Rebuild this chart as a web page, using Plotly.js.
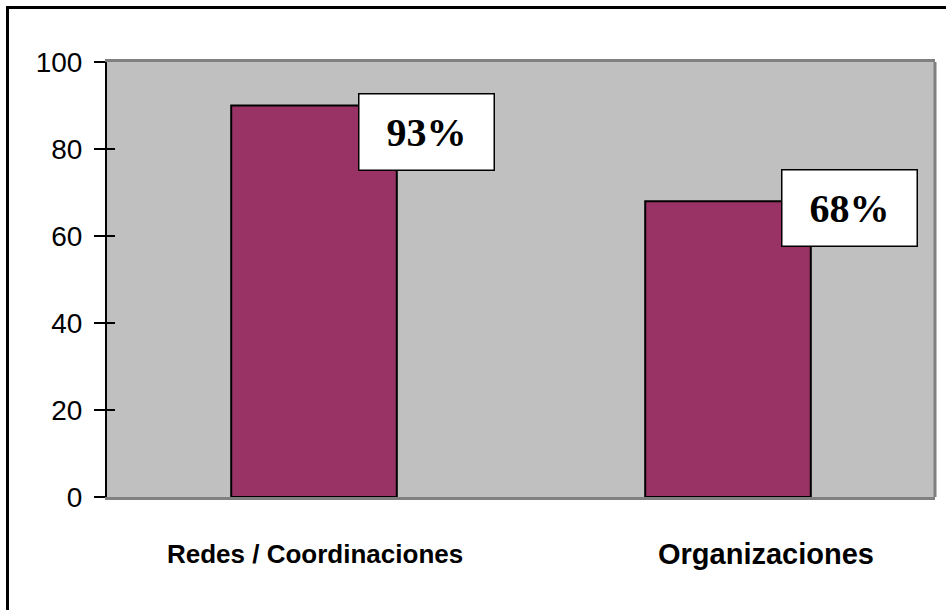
<!DOCTYPE html>
<html>
<head>
<meta charset="utf-8">
<script src="https://cdn.plot.ly/plotly-3.0.1.min.js"></script>
<style>
  html, body { margin: 0; padding: 0; background: #fff; }
  #chart { position: absolute; left: 0; top: 0; width: 946px; height: 610px; }
  #frame { position: absolute; left: 6px; top: 6px; width: 940px; height: 604px;
           border-left: 3px solid #000; border-top: 3px solid #000; box-sizing: border-box;
           pointer-events: none; }
</style>
</head>
<body>
<div id="chart"></div>
<div id="frame"></div>
<script>
const categories = ["Redes / Coordinaciones", "Organizaciones"];
const values = [90, 68];
const valueLabels = ["93%", "68%"];
const yTicks = [0, 20, 40, 60, 80, 100];

const sans = '"Liberation Sans", Arial, sans-serif';

const bars = {
  type: "bar",
  x: categories,
  y: values,
  width: 0.4,
  marker: { color: "#993366", line: { color: "#000", width: 2 } },
  hoverinfo: "skip"
};

// empty helper trace so the overlaying axis (inner half of the tick marks) is drawn
const tickHelper = {
  type: "scatter", mode: "none", x: [], y: [],
  xaxis: "x", yaxis: "y2", hoverinfo: "skip", showlegend: false
};

const labelOffsets = [[112, -26], [121, -7]];
const valueAnnotations = categories.map((c, i) => ({
  x: c, y: values[i], xref: "x", yref: "y",
  text: "<b>" + valueLabels[i] + "</b>",
  showarrow: false,
  xanchor: "center", yanchor: "middle",
  xshift: labelOffsets[i][0], yshift: labelOffsets[i][1],
  font: { family: '"Liberation Serif", "Times New Roman", serif', size: 40, color: "#000" },
  bgcolor: "#fff", bordercolor: "#000", borderwidth: 1.5,
  width: 132, height: 73
}));

const catShift = [1, 38];
const catSize = [26, 29];
const catAnnotations = categories.map((c, i) => ({
  x: c, y: 0, xref: "x", yref: "y",
  text: "<b>" + c + "</b>",
  showarrow: false,
  xanchor: "center", yanchor: "middle",
  xshift: catShift[i], yshift: -57,
  font: { family: sans, size: catSize[i], color: "#000" }
}));

const layout = {
  width: 946, height: 610,
  margin: { l: 107, r: 11, t: 62, b: 113 },
  paper_bgcolor: "#fff",
  plot_bgcolor: "#C0C0C0",
  showlegend: false,
  xaxis: {
    type: "category",
    range: [-0.5, 1.5],
    showline: true, linecolor: "#808080", linewidth: 3, mirror: true,
    ticks: "", showgrid: false, zeroline: false,
    showticklabels: false
  },
  yaxis: {
    range: [0, 100],
    tickvals: yTicks,
    ticktext: yTicks.map(String),
    showline: true, linecolor: "#000", linewidth: 2,
    ticks: "outside", ticklen: 11, tickwidth: 2, tickcolor: "#000",
    showgrid: false, zeroline: false,
    tickfont: { family: sans, size: 28, color: "#000" },
    ticklabelstandoff: 6
  },
  yaxis2: {
    overlaying: "y", side: "left", range: [0, 100],
    tickvals: yTicks, showticklabels: false,
    ticks: "inside", ticklen: 8, tickwidth: 2, tickcolor: "#000",
    showline: false, showgrid: false, zeroline: false
  },
  shapes: [
    { type: "line", xref: "paper", yref: "paper", x0: 1, x1: 1, y0: 0, y1: 1,
      line: { color: "#808080", width: 3 } }
  ],
  annotations: valueAnnotations.concat(catAnnotations)
};

Plotly.newPlot("chart", [bars, tickHelper], layout, { displayModeBar: false, staticPlot: true });
</script>
</body>
</html>
